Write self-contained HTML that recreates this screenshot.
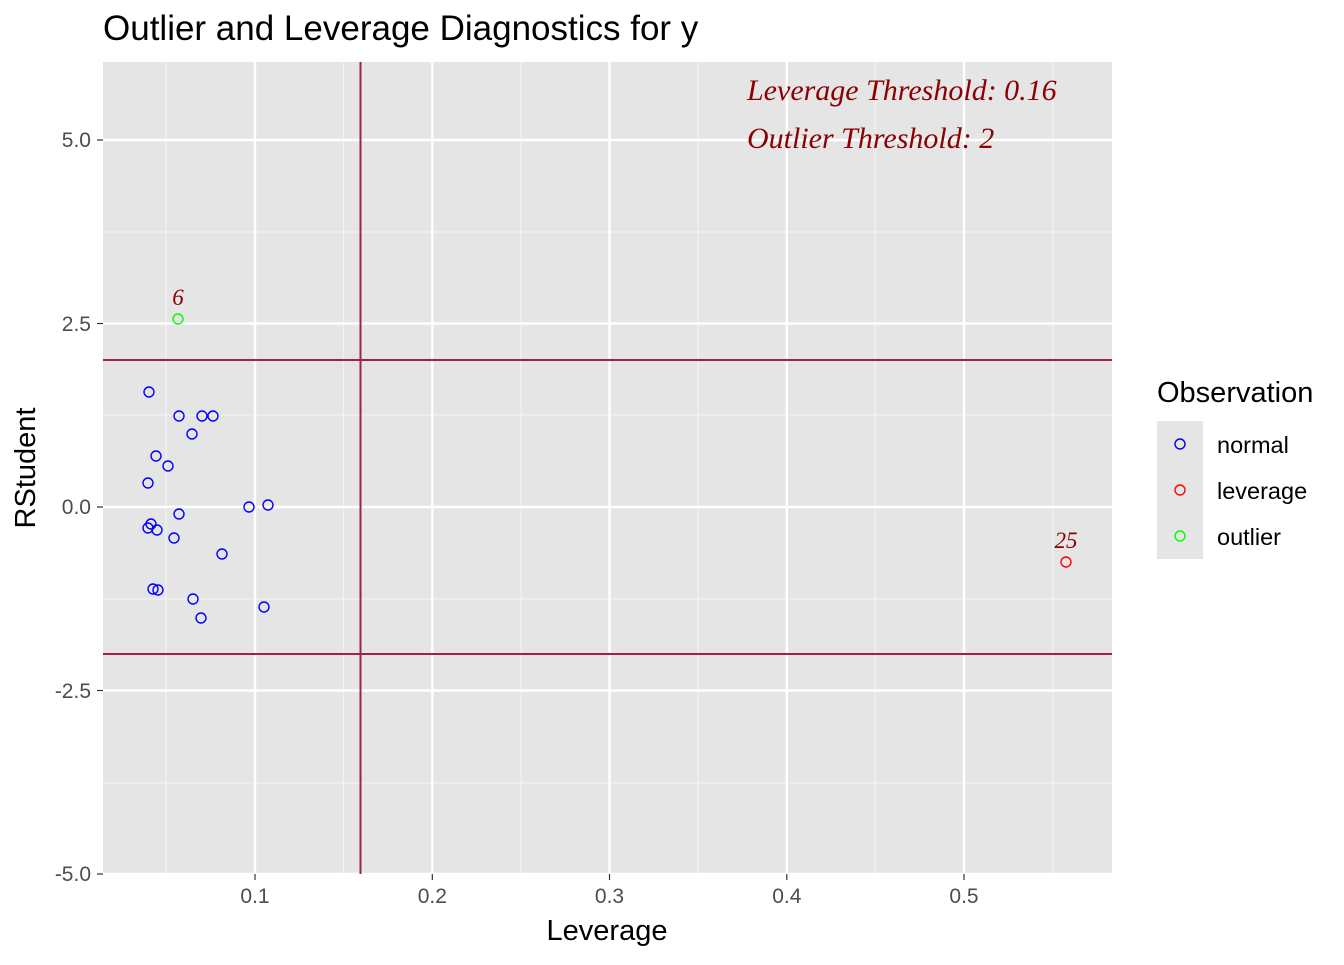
<!DOCTYPE html>
<html><head><meta charset="utf-8"><style>body{margin:0;background:#fff}</style></head>
<body>
<svg width="1344" height="960" xmlns="http://www.w3.org/2000/svg" font-family="Liberation Sans, Arial, sans-serif">
<rect x="0" y="0" width="1344" height="960" fill="#fff"/>
<rect x="103" y="62" width="1009" height="812" fill="#e5e5e5"/>
<g stroke="#f2f2f2" stroke-width="1.2">
<line x1="166" y1="62" x2="166" y2="874"/><line x1="343.6" y1="62" x2="343.6" y2="874"/>
<line x1="520.9" y1="62" x2="520.9" y2="874"/><line x1="698.1" y1="62" x2="698.1" y2="874"/>
<line x1="875.4" y1="62" x2="875.4" y2="874"/><line x1="1052.6" y1="62" x2="1052.6" y2="874"/>
<line x1="103" y1="232" x2="1112" y2="232"/><line x1="103" y1="415" x2="1112" y2="415"/>
<line x1="103" y1="599" x2="1112" y2="599"/><line x1="103" y1="783" x2="1112" y2="783"/>
</g>
<g stroke="#fff" stroke-width="2.4">
<line x1="255" y1="62" x2="255" y2="874"/><line x1="432.3" y1="62" x2="432.3" y2="874"/>
<line x1="609.5" y1="62" x2="609.5" y2="874"/><line x1="786.8" y1="62" x2="786.8" y2="874"/>
<line x1="964" y1="62" x2="964" y2="874"/>
<line x1="103" y1="140" x2="1112" y2="140"/><line x1="103" y1="323.5" x2="1112" y2="323.5"/>
<line x1="103" y1="507" x2="1112" y2="507"/><line x1="103" y1="690.5" x2="1112" y2="690.5"/>
<line x1="103" y1="874" x2="1112" y2="874"/>
</g>
<g stroke="#a0224a" stroke-width="2">
<line x1="360.5" y1="62" x2="360.5" y2="874"/>
<line x1="103" y1="360" x2="1112" y2="360"/><line x1="103" y1="654" x2="1112" y2="654"/>
</g>
<g fill="none" stroke="#0000ff" stroke-width="1.4">
<circle cx="149" cy="392" r="5"/><circle cx="179" cy="416" r="5"/><circle cx="202" cy="416" r="5"/><circle cx="213" cy="416" r="5"/>
<circle cx="192" cy="434" r="5"/><circle cx="156" cy="456" r="5"/><circle cx="168" cy="466" r="5"/><circle cx="148" cy="483" r="5"/>
<circle cx="179" cy="514" r="5"/><circle cx="249" cy="507" r="5"/><circle cx="268" cy="505" r="5"/><circle cx="148" cy="528" r="5"/>
<circle cx="151" cy="524" r="5"/><circle cx="157" cy="530" r="5"/><circle cx="174" cy="538" r="5"/><circle cx="222" cy="554" r="5"/>
<circle cx="153" cy="589" r="5"/><circle cx="158" cy="590" r="5"/><circle cx="193" cy="599" r="5"/><circle cx="201" cy="618" r="5"/>
<circle cx="264" cy="607" r="5"/>
</g>
<circle cx="178" cy="319" r="5" fill="none" stroke="#00ff00" stroke-width="1.4"/>
<circle cx="1066" cy="562" r="5" fill="none" stroke="#ff0000" stroke-width="1.4"/>
<g font-family="Liberation Serif, serif" font-style="italic" fill="#8b0000">
<text x="178" y="305" font-size="23" text-anchor="middle">6</text>
<text x="1066" y="548" font-size="23" text-anchor="middle">25</text>
<text x="747" y="100" font-size="30">Leverage Threshold: 0.16</text>
<text x="747" y="148" font-size="30">Outlier Threshold: 2</text>
</g>
<g font-size="21" fill="#4d4d4d" text-anchor="end">
<text x="91" y="147">5.0</text><text x="91" y="331">2.5</text><text x="91" y="514">0.0</text>
<text x="91" y="698">-2.5</text><text x="91" y="881">-5.0</text>
</g>
<g stroke="#333" stroke-width="1.2">
<line x1="97" y1="140" x2="103" y2="140"/><line x1="97" y1="323.5" x2="103" y2="323.5"/><line x1="97" y1="507" x2="103" y2="507"/>
<line x1="97" y1="690.5" x2="103" y2="690.5"/><line x1="97" y1="874" x2="103" y2="874"/>
<line x1="255" y1="874" x2="255" y2="880"/><line x1="432.3" y1="874" x2="432.3" y2="880"/><line x1="609.5" y1="874" x2="609.5" y2="880"/>
<line x1="786.8" y1="874" x2="786.8" y2="880"/><line x1="964" y1="874" x2="964" y2="880"/>
</g>
<g font-size="21" fill="#4d4d4d" text-anchor="middle">
<text x="255" y="903">0.1</text><text x="432.3" y="903">0.2</text><text x="609.5" y="903">0.3</text>
<text x="786.8" y="903">0.4</text><text x="964" y="903">0.5</text>
</g>
<text x="607" y="940" font-size="29" text-anchor="middle">Leverage</text>
<text transform="translate(35,468) rotate(-90)" font-size="29" text-anchor="middle">RStudent</text>
<text x="103" y="40" font-size="35">Outlier and Leverage Diagnostics for y</text>
<text x="1157" y="402" font-size="29">Observation</text>
<rect x="1157" y="421" width="46" height="138" fill="#e5e5e5"/>
<circle cx="1180" cy="444" r="5" fill="none" stroke="#0000ff" stroke-width="1.4"/>
<circle cx="1180" cy="490" r="5" fill="none" stroke="#ff0000" stroke-width="1.4"/>
<circle cx="1180" cy="536" r="5" fill="none" stroke="#00ff00" stroke-width="1.4"/>
<g font-size="23.5" fill="#000">
<text x="1217" y="453">normal</text><text x="1217" y="499">leverage</text><text x="1217" y="545">outlier</text>
</g>
</svg>
</body></html>
